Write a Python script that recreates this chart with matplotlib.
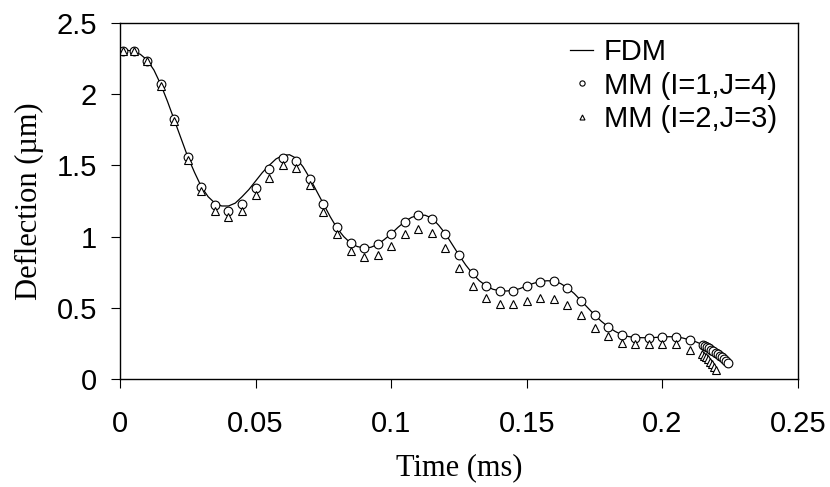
import matplotlib
matplotlib.use("Agg")
import matplotlib.pyplot as plt

# FDM reference solution
fdm_t = [0.0, 0.0025, 0.005, 0.0075, 0.010, 0.0125, 0.015, 0.0175, 0.020, 0.0225,
         0.025, 0.0275, 0.030, 0.0325, 0.035, 0.0375, 0.040, 0.0425, 0.045, 0.0475,
         0.050, 0.0525, 0.055, 0.0575, 0.060, 0.0625, 0.065, 0.0675, 0.070, 0.0725,
         0.075, 0.0775, 0.080, 0.0825, 0.085, 0.0875, 0.090, 0.0925, 0.095, 0.0975,
         0.100, 0.1025, 0.105, 0.1075, 0.110, 0.1125, 0.115, 0.1175, 0.120, 0.1225,
         0.125, 0.1275, 0.130, 0.1325, 0.135, 0.1375, 0.140, 0.1425, 0.145, 0.1475,
         0.150, 0.1525, 0.155, 0.1575, 0.160, 0.1625, 0.165, 0.1675, 0.170, 0.1725,
         0.175, 0.1775, 0.180, 0.1825, 0.185, 0.1875, 0.190, 0.1925, 0.195, 0.1975,
         0.200, 0.2025, 0.205, 0.2075, 0.210, 0.2125, 0.215, 0.2175, 0.220, 0.2225,
         0.224]
fdm_d = [2.31, 2.31, 2.30, 2.28, 2.24, 2.17, 2.07, 1.95, 1.82, 1.69,
         1.56, 1.45, 1.35, 1.28, 1.235, 1.215, 1.215, 1.235, 1.28, 1.33,
         1.39, 1.45, 1.50, 1.545, 1.57, 1.575, 1.55, 1.49, 1.41, 1.32,
         1.23, 1.14, 1.06, 1.00, 0.955, 0.93, 0.92, 0.925, 0.945, 0.98,
         1.02, 1.065, 1.105, 1.135, 1.15, 1.15, 1.13, 1.08, 1.02, 0.945,
         0.87, 0.80, 0.74, 0.69, 0.655, 0.63, 0.62, 0.618, 0.622, 0.635,
         0.655, 0.672, 0.685, 0.69, 0.688, 0.67, 0.64, 0.60, 0.55, 0.50,
         0.45, 0.405, 0.367, 0.335, 0.311, 0.298, 0.292, 0.29, 0.29, 0.292,
         0.295, 0.297, 0.296, 0.288, 0.275, 0.26, 0.24, 0.21, 0.18, 0.145,
         0.12]

# MM (I=1, J=4)
mm1_t = [0.001, 0.005, 0.010, 0.015, 0.020, 0.025, 0.030, 0.035, 0.040, 0.045,
         0.050, 0.055, 0.060, 0.065, 0.070, 0.075, 0.080, 0.085, 0.090, 0.095,
         0.100, 0.105, 0.110, 0.115, 0.120, 0.125, 0.130, 0.135, 0.140, 0.145,
         0.150, 0.155, 0.160, 0.165, 0.170, 0.175, 0.180, 0.185, 0.190, 0.195,
         0.200, 0.205, 0.210,
         0.2148, 0.2156, 0.2164, 0.2172, 0.2180, 0.2188, 0.2196, 0.2204, 0.2212,
         0.2220, 0.2228, 0.2236, 0.2243]
mm1_d = [2.303, 2.30, 2.235, 2.07, 1.824, 1.561, 1.35, 1.222, 1.182, 1.231,
         1.339, 1.473, 1.55, 1.533, 1.404, 1.229, 1.065, 0.955, 0.918, 0.946,
         1.018, 1.103, 1.149, 1.121, 1.018, 0.871, 0.742, 0.653, 0.616, 0.62,
         0.653, 0.683, 0.688, 0.641, 0.55, 0.449, 0.367, 0.311, 0.29, 0.29,
         0.297, 0.297, 0.274,
         0.240, 0.232, 0.224, 0.215, 0.205, 0.195, 0.185, 0.174, 0.163,
         0.151, 0.139, 0.127, 0.115]

# MM (I=2, J=3)
mm2_t = [0.001, 0.005, 0.010, 0.015, 0.020, 0.025, 0.030, 0.035, 0.040, 0.045,
         0.050, 0.055, 0.060, 0.065, 0.070, 0.075, 0.080, 0.085, 0.090, 0.095,
         0.100, 0.105, 0.110, 0.115, 0.120, 0.125, 0.130, 0.135, 0.140, 0.145,
         0.150, 0.155, 0.160, 0.165, 0.170, 0.175, 0.180, 0.185, 0.190, 0.195,
         0.200, 0.205, 0.210,
         0.2147, 0.2154, 0.2161, 0.2168, 0.2176, 0.2183, 0.2190, 0.2198]
mm2_d = [2.30, 2.30, 2.23, 2.06, 1.81, 1.54, 1.32, 1.18, 1.14, 1.18,
         1.29, 1.41, 1.50, 1.48, 1.36, 1.17, 1.02, 0.90, 0.857, 0.871,
         0.936, 1.016, 1.051, 1.023, 0.918, 0.782, 0.655, 0.571, 0.529, 0.525,
         0.55, 0.569, 0.564, 0.522, 0.447, 0.36, 0.302, 0.25, 0.243, 0.243,
         0.243, 0.243, 0.204,
         0.178, 0.165, 0.152, 0.138, 0.122, 0.105, 0.085, 0.063]

x_ticks = [0, 0.05, 0.1, 0.15, 0.2, 0.25]
x_tick_labels = ["0", "0.05", "0.1", "0.15", "0.2", "0.25"]
y_ticks = [0, 0.5, 1, 1.5, 2, 2.5]
y_tick_labels = ["0", "0.5", "1", "1.5", "2", "2.5"]

SANS = "Liberation Sans"
SERIF = "Liberation Serif"

fig = plt.figure(figsize=(8.3, 4.87), dpi=100)
ax = fig.add_axes([120 / 830, 1 - 379 / 487, 678 / 830, 356 / 487])

ax.plot(fdm_t, fdm_d, color="black", lw=0.9, label="FDM")
ax.plot(mm1_t, mm1_d, ls="none", marker="o", ms=6.3, mfc="white", mec="black",
        mew=0.8, label="MM (I=1,J=4)")
ax.plot(mm2_t, mm2_d, ls="none", marker="^", ms=6.0, mfc="white", mec="black",
        mew=0.8, label="MM (I=2,J=3)")

ax.set_xlim(0, 0.25)
ax.set_ylim(0, 2.5)
ax.set_xticks(x_ticks)
ax.set_xticklabels(x_tick_labels, fontfamily=SANS, fontsize=21)
ax.set_yticks(y_ticks)
ax.set_yticklabels(y_tick_labels, fontfamily=SANS, fontsize=21)
ax.tick_params(axis="both", direction="out", length=6.5, width=0.8, color="black")
ax.tick_params(axis="x", pad=16)
ax.tick_params(axis="y", pad=10)
for sp in ax.spines.values():
    sp.set_linewidth(1.0)

ax.set_xlabel("Time (ms)", fontfamily=SERIF, fontsize=22, labelpad=11)
ax.set_ylabel("Deflection (\u00b5m)", fontfamily=SERIF, fontsize=22, labelpad=9)

leg = ax.legend(loc="upper left", bbox_to_anchor=(570 / 830, 1 - 38 / 487),
                bbox_transform=fig.transFigure, frameon=False,
                prop={"family": SANS, "size": 21}, handlelength=0.8,
                handletextpad=0.35, labelspacing=0.19, markerscale=0.6,
                borderpad=0, borderaxespad=0)

fig.savefig("out.png", dpi=100)
